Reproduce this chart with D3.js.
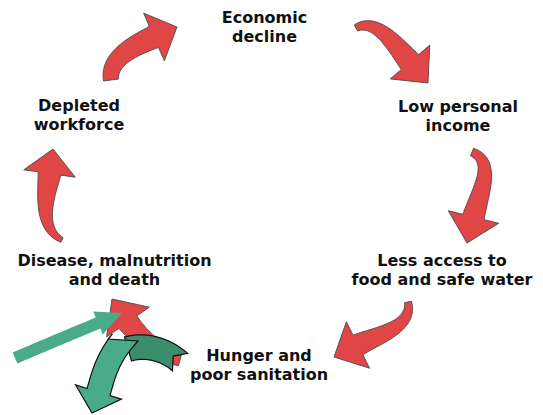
<!DOCTYPE html>
<html>
<head>
<meta charset="utf-8">
<script src="https://cdn.jsdelivr.net/npm/d3@7"></script>
<style>
  html, body { margin: 0; padding: 0; background: #ffffff; }
  svg { display: block; }
</style>
</head>
<body>
<div id="chart"></div>
<script>
// ---- data ----
const stageNames = ["Economic decline", "Low personal income", "Less access to food and safe water",
                    "Hunger and poor sanitation", "Disease, malnutrition and death", "Depleted workforce"];
const stageLines = [["Economic", "decline"], ["Low personal", "income"], ["Less access to", "food and safe water"],
                    ["Hunger and", "poor sanitation"], ["Disease, malnutrition", "and death"], ["Depleted", "workforce"]];
const cycleLinks = [[5, 0], [0, 1], [1, 2], [2, 3], [3, 4], [4, 5]];

// ---- layout (diagram geometry) ----
const W = 543, H = 415;
const labelAnchor = [[264.5, 23], [458, 112], [442, 266], [259, 361], [114.5, 266], [79, 111]];
const lineGap = 19;
const linkGeom = [
  {p0: [111, 80],  c1: [108, 58],  p1: [154, 37],    tip: [177, 27],  k: 20, w0: 15, w1: 23, hw: 26},
  {p0: [356, 28],  c1: [376, 17],  p1: [410, 62],    tip: [428, 83],  k: 22, w0: 7,  w1: 23, hw: 26},
  {p0: [472, 152], c1: [496, 162], p1: [473.5, 217], tip: [467, 243], k: 25, w0: 8,  w1: 22, hw: 26},
  {p0: [408, 302], c1: [413, 327], p1: [358, 345],   tip: [334, 357], k: 22, w0: 7,  w1: 22, hw: 26},
  {p0: [180, 360], c1: [165, 356], p1: [128, 322],   tip: [112, 299], k: 20, w0: 12, w1: 22, hw: 26},
  {p0: [62, 240],  c1: [38, 228],  p1: [49.5, 173.5], tip: [53, 149], k: 20, w0: 5,  w1: 23, hw: 26}
];
const greenStraight = {p0: [15, 358], c1: [43, 346], p1: [98, 323], tip: [122, 313], k: 20, w0: 12, w1: 12, hw: 12.5};
const greenBack = {p0: [180, 362], c1: [165, 349], c2: [145, 344], p1: [128, 349], w0: 23, w1: 25, hw: 0, notch: 9};
const greenFront = {p0: [123, 340], c1: [106, 360], p1: [98.5, 392], tip: [92, 413], k: 12, w0: 24, w1: 24, hw: 24, skew: 9};

const colors = {red: "#e04646", redStroke: "#4a4a4a", green: "#4aab8b", greenDark: "#3b8d6b", text: "#111111"};

// ---- arrow generator ----
function arrowPoints(a) {
  const n = 40;
  let T = null, c2 = a.c2;
  if (a.tip) {
    const dx = a.tip[0] - a.p1[0], dy = a.tip[1] - a.p1[1], L = Math.hypot(dx, dy);
    T = [dx / L, dy / L];
    if (!c2) c2 = [a.p1[0] - T[0] * a.k, a.p1[1] - T[1] * a.k];
  }
  const P = [a.p0, a.c1, c2, a.p1];
  const bez = t => {
    const u = 1 - t;
    return [0, 1].map(j => u*u*u*P[0][j] + 3*u*u*t*P[1][j] + 3*u*t*t*P[2][j] + t*t*t*P[3][j]);
  };
  const der = t => {
    const u = 1 - t;
    return [0, 1].map(j => 3*u*u*(P[1][j]-P[0][j]) + 6*u*t*(P[2][j]-P[1][j]) + 3*t*t*(P[3][j]-P[2][j]));
  };
  const left = [], right = [];
  d3.range(n + 1).forEach(i => {
    const t = i / n, p = bez(t), d = der(t), L = Math.hypot(d[0], d[1]);
    const nx = -d[1] / L, ny = d[0] / L, w = (a.w0 + (a.w1 - a.w0) * t) / 2;
    const sk = (i === 0 && a.skew) ? a.skew : 0;
    const tx = d[0] / L, ty = d[1] / L;
    left.push([p[0] + nx * w + tx * sk, p[1] + ny * w + ty * sk]);
    right.push([p[0] - nx * w - tx * sk, p[1] - ny * w - ty * sk]);
  });
  const pts = left.slice();
  if (a.hw > 0) {
    const nx = -T[1], ny = T[0];
    pts.push([a.p1[0] + nx * a.hw, a.p1[1] + ny * a.hw]);
    pts.push(a.tip);
    pts.push([a.p1[0] - nx * a.hw, a.p1[1] - ny * a.hw]);
  }
  pts.push(...right.reverse());
  if (a.notch) {
    const d = der(0), L = Math.hypot(d[0], d[1]);
    pts.push([a.p0[0] + d[0] / L * a.notch, a.p0[1] + d[1] / L * a.notch]);
  }
  return pts;
}
const line = d3.line().curve(d3.curveLinearClosed);

// ---- draw ----
const svg = d3.select("#chart").append("svg").attr("width", W).attr("height", H)
  .style("font-family", "'DejaVu Sans', Verdana, sans-serif");
svg.append("rect").attr("width", W).attr("height", H).attr("fill", "#fff");

svg.append("g").attr("class", "cycle-arrows")
  .selectAll("path").data(cycleLinks).join("path")
  .attr("d", (d, i) => line(arrowPoints(linkGeom[i])))
  .attr("fill", colors.red).attr("stroke", colors.redStroke).attr("stroke-width", 0.9)
  .attr("stroke-linejoin", "miter");

const g2 = svg.append("g").attr("class", "intervention");
g2.append("path").attr("d", line(arrowPoints(greenStraight))).attr("fill", colors.green);
g2.append("path").attr("d", line(arrowPoints(greenBack))).attr("fill", colors.greenDark)
  .attr("stroke", "#111").attr("stroke-width", 1.2).attr("stroke-linejoin", "miter");
g2.append("path").attr("d", line(arrowPoints(greenFront))).attr("fill", colors.green)
  .attr("stroke", "#111").attr("stroke-width", 1.2).attr("stroke-linejoin", "miter");

const labels = svg.append("g").attr("class", "labels")
  .selectAll("text").data(stageLines).join("text")
  .attr("text-anchor", "middle")
  .attr("font-size", 16).attr("font-weight", "bold").attr("fill", colors.text)
  .attr("aria-label", (d, i) => stageNames[i]);
labels.selectAll("tspan").data((d, i) => d.map(s => ({s, i}))).join("tspan")
  .attr("x", d => labelAnchor[d.i][0])
  .attr("y", (d, j) => labelAnchor[d.i][1] + j * lineGap)
  .text(d => d.s);
</script>
</body>
</html>
